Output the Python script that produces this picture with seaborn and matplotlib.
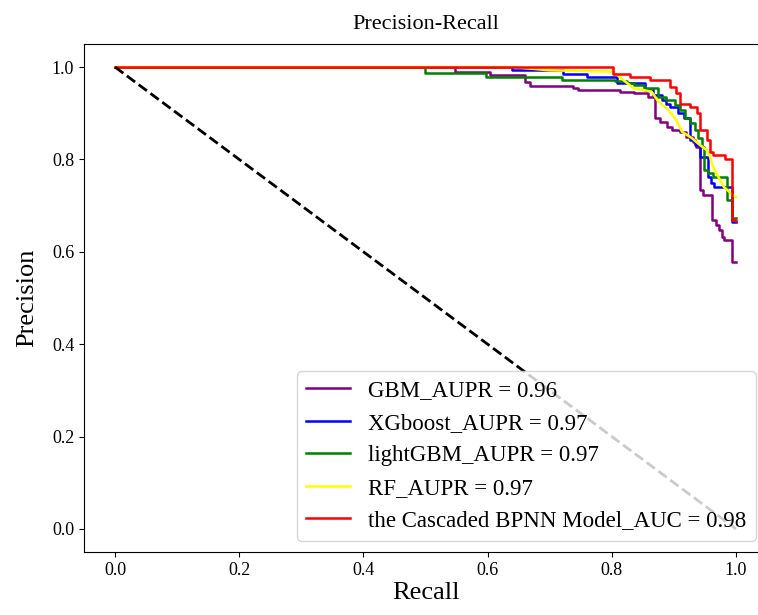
import seaborn as sns
import matplotlib.pyplot as plt

# recall / precision levels (step curves, steps-post)
gbm_recall = [0, 0.548, 0.604, 0.660, 0.668, 0.738, 0.745, 0.813, 0.835, 0.859, 0.870, 0.878,
              0.889, 0.897, 0.910, 0.920, 0.930, 0.936, 0.942, 0.947, 0.962, 0.968, 0.972,
              0.977, 0.980, 0.993, 1.0]
gbm_prec = [1.0, 0.990, 0.983, 0.968, 0.960, 0.954, 0.950, 0.947, 0.943, 0.936, 0.890, 0.882,
            0.871, 0.864, 0.860, 0.849, 0.838, 0.828, 0.734, 0.723, 0.669, 0.658, 0.647,
            0.633, 0.626, 0.579, 0.579]

xgb_recall = [0, 0.639, 0.722, 0.760, 0.808, 0.853, 0.867, 0.880, 0.888, 0.894, 0.907, 0.916,
              0.926, 0.934, 0.942, 0.955, 0.959, 0.964, 0.993, 1.0]
xgb_prec = [1.0, 0.993, 0.984, 0.979, 0.965, 0.950, 0.940, 0.929, 0.921, 0.914, 0.900, 0.889,
            0.842, 0.831, 0.806, 0.763, 0.748, 0.741, 0.665, 0.665]

lgb_recall = [0, 0.499, 0.598, 0.719, 0.805, 0.824, 0.835, 0.851, 0.875, 0.888, 0.902, 0.910,
              0.918, 0.926, 0.934, 0.939, 0.945, 0.948, 0.955, 0.963, 0.985, 0.993, 1.0]
lgb_prec = [1.0, 0.988, 0.978, 0.973, 0.970, 0.965, 0.961, 0.954, 0.936, 0.929, 0.918, 0.907,
            0.889, 0.878, 0.864, 0.846, 0.828, 0.777, 0.770, 0.763, 0.712, 0.673, 0.673]

rf_recall = [0, 0.64, 0.70, 0.802, 0.835, 0.864, 0.875, 0.888, 0.902, 0.913, 0.929, 0.942,
             0.953, 0.958, 0.963, 0.980, 0.998, 1.0]
rf_prec = [1.0, 1.0, 0.993, 0.990, 0.954, 0.947, 0.925, 0.911, 0.889, 0.860, 0.846, 0.831,
           0.820, 0.806, 0.784, 0.741, 0.719, 0.719]

bpnn_recall = [0, 0.802, 0.829, 0.862, 0.894, 0.904, 0.910, 0.926, 0.937, 0.942, 0.953, 0.958,
               0.963, 0.982, 0.993, 1.0]
bpnn_prec = [1.0, 0.986, 0.979, 0.972, 0.957, 0.943, 0.921, 0.914, 0.900, 0.864, 0.842, 0.817,
             0.810, 0.802, 0.669, 0.667]

labels = ["GBM_AUPR = 0.96", "XGboost_AUPR = 0.97", "lightGBM_AUPR = 0.97",
          "RF_AUPR = 0.97", "the Cascaded BPNN Model_AUC = 0.98"]
colors = ["purple", "blue", "green", "yellow", "red"]

plt.rcParams['font.family'] = ['Liberation Serif', 'DejaVu Serif']

fig = plt.figure(figsize=(7.58, 6.15), dpi=100)
ax = fig.add_axes([0.1108, 0.1024, 0.9012, 0.8261])

curves = [(gbm_recall, gbm_prec, 'steps-post'),
          (xgb_recall, xgb_prec, 'steps-post'),
          (lgb_recall, lgb_prec, 'steps-post'),
          (rf_recall, rf_prec, 'default'),
          (bpnn_recall, bpnn_prec, 'steps-post')]
for (r, p, ds), lab, c in zip(curves, labels, colors):
    sns.lineplot(x=r, y=p, ax=ax, color=c, label=lab, sort=False, estimator=None,
                 drawstyle=ds, linewidth=1.8)

ax.plot([0, 1], [1, 0], color='black', linestyle='--', linewidth=2)

ax.set_xlim(-0.05, 1.05)
ax.set_ylim(-0.05, 1.05)
ax.set_xticks([0.0, 0.2, 0.4, 0.6, 0.8, 1.0])
ax.set_yticks([0.0, 0.2, 0.4, 0.6, 0.8, 1.0])
ax.spines['right'].set_visible(False)
ax.tick_params(labelsize=13)
ax.set_title("Precision-Recall", fontsize=16, pad=11)
ax.set_xlabel("Recall", fontsize=19, labelpad=2)
ax.set_ylabel("Precision", fontsize=19, labelpad=10)
ax.legend(loc='lower right', fontsize=16.5, labelspacing=0.5, handlelength=1.9)

fig.savefig("out.png", dpi=100)
